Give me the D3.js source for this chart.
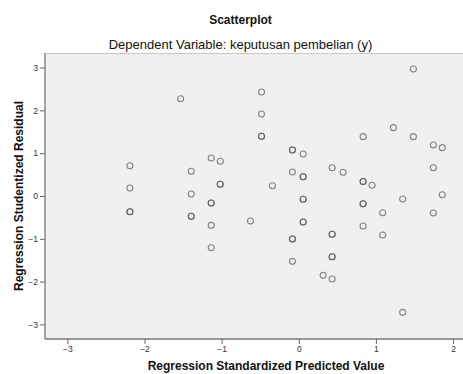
<!DOCTYPE html>
<html>
<head>
<meta charset="utf-8">
<script src="https://cdn.jsdelivr.net/npm/d3@7"></script>
<style>
  html, body { margin: 0; padding: 0; background: #ffffff; }
  svg { display: block; font-family: "Liberation Sans", Arial, sans-serif; }
</style>
</head>
<body>
<svg id="chart" width="463" height="374"></svg>
<script>
// Regression standardized predicted values (x) and studentized residuals (y)
const predicted = [
  -1.532, -1.135, -1.018, -2.189, -1.394, -1.018, -1.018, -2.189, -1.394, -1.135,
  -1.135, -2.189, -2.189, -1.394, -1.394, -1.135, -0.626, -1.135,
  1.486, -0.483, -0.483, -0.483, -0.483, 1.227, 1.486, 0.834, 1.745, 1.861,
  -0.082, -0.082, 0.057, 0.433, 0.575, -0.082, 0.057, 0.057, 1.745, -0.341,
  0.834, 0.834, 0.951, 1.861, 0.057, 0.057, 0.834, 0.834, 1.347, 1.088, 1.745,
  0.057, 0.057, 0.834, 1.088, 0.433, 0.433, -0.082, -0.082, 0.433, 0.433,
  -0.082, 0.316, 0.433, 1.347
];
const residual = [
  2.273, 0.888, 0.811, 0.708, 0.577, 0.273, 0.273, 0.187, 0.047, -0.164,
  -0.164, -0.367, -0.367, -0.474, -0.474, -0.685, -0.584, -1.208,
  2.967, 2.430, 1.916, 1.395, 1.395, 1.596, 1.386, 1.386, 1.192, 1.129,
  1.075, 1.075, 0.981, 0.661, 0.554, 0.561, 0.451, 0.451, 0.661, 0.241,
  0.339, 0.339, 0.250, 0.030, -0.077, -0.077, -0.180, -0.180, -0.070, -0.390, -0.397,
  -0.607, -0.607, -0.701, -0.911, -0.895, -0.895, -1.005, -1.005, -1.418, -1.418,
  -1.526, -1.853, -1.939, -2.717
];
const xTicks = [-3, -2, -1, 0, 1, 2];
const yTicks = [-3, -2, -1, 0, 1, 2, 3];
const titleText = "Scatterplot";
const subtitleText = "Dependent Variable: keputusan pembelian (y)";
const xLabel = "Regression Standardized Predicted Value";
const yLabel = "Regression Studentized Residual";

const svg = d3.select("#chart");
const pLeft = 45, pRight = 470, pTop = 53, pBottom = 339;

const x = d3.scaleLinear().domain([-3.29, 2.22]).range([pLeft, pRight]);
const y = d3.scaleLinear().domain([-3.34, 3.34]).range([pBottom, pTop]);

// plot area
svg.append("rect")
  .attr("x", pLeft).attr("y", pTop)
  .attr("width", pRight - pLeft).attr("height", pBottom - pTop)
  .attr("fill", "#f0f0f0");
// top border (light)
svg.append("line").attr("x1", pLeft).attr("x2", pRight)
  .attr("y1", pTop + 0.5).attr("y2", pTop + 0.5)
  .attr("stroke", "#c8c8c8").attr("stroke-width", 1);

// axes
const xAxis = d3.axisBottom(x).tickValues(xTicks).tickSize(5).tickPadding(2)
  .tickFormat(d3.format("d"));
const yAxis = d3.axisLeft(y).tickValues(yTicks).tickSize(5).tickPadding(2)
  .tickFormat(d3.format("d"));

const gx = svg.append("g").attr("transform", `translate(0,${pBottom})`).call(xAxis);
const gy = svg.append("g").attr("transform", `translate(${pLeft},0)`).call(yAxis);
[gx, gy].forEach(g => {
  g.select(".domain").attr("stroke", "#777").attr("stroke-width", 1.3);
  g.selectAll(".tick line").attr("stroke", "#666");
  g.selectAll(".tick text").attr("fill", "#333").attr("font-size", 8.5)
    .attr("font-family", "'Liberation Sans', Arial, sans-serif");
});
gx.select(".domain").attr("d", `M${pLeft},0H${pRight}`);
gy.select(".domain").attr("d", `M0,${pTop}V${pBottom}`);

// points
const pts = predicted.map((p, i) => ({ p, r: residual[i] }));
svg.append("g").selectAll("circle").data(pts).enter().append("circle")
  .attr("cx", d => x(d.p)).attr("cy", d => y(d.r)).attr("r", 3)
  .attr("fill", "none").attr("stroke", "#555").attr("stroke-opacity", 0.7)
  .attr("stroke-width", 1.1);

// titles
svg.append("text").attr("x", 240.5).attr("y", 24).attr("text-anchor", "middle")
  .attr("font-size", 12).attr("font-weight", "bold").attr("fill", "#111").text(titleText);
svg.append("text").attr("x", 240.5).attr("y", 49).attr("text-anchor", "middle")
  .attr("font-size", 13).attr("fill", "#111").text(subtitleText);
svg.append("text").attr("x", 266).attr("y", 370).attr("text-anchor", "middle")
  .attr("font-size", 12).attr("font-weight", "bold").attr("fill", "#111").text(xLabel);
svg.append("text").attr("transform", "translate(23,196) rotate(-90)")
  .attr("text-anchor", "middle")
  .attr("font-size", 12).attr("font-weight", "bold").attr("fill", "#111").text(yLabel);
</script>
</body>
</html>
